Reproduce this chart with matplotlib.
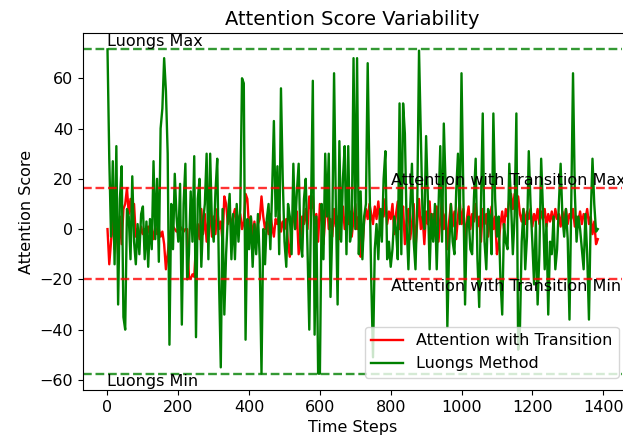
import numpy as np
import matplotlib
matplotlib.use("Agg")
import matplotlib.pyplot as plt

# time steps, one reading every 5 steps
steps = np.arange(0, 1390, 5)

attention_transition = [
    0, -14, -5, 6, -8, 3, -10, 5, -6, 8,
    10, 16.3, 6, 12, 2, 10, -3, 0, -4, 1,
    -2, 0, -3, 1, -2, 0, -4, 1, -2, 0,
    -3, -1, -6, -16, -10, -3, 0, 1, 0, -1,
    0, 1, 0, -1, 0, 0, -19, -19.7, -18, -19,
    -6, 2, -4, 8, -2, 6, -5, 4, 7, -3,
    5, -2, 8, 0, 3, -5, 13, 10, 2, 7,
    0, 5, 8, -1, 4, 6, 0, 3, 14, 12,
    0, 5, -4, 3, -5, 2, 4, 13, 5, 0,
    3, -2, 6, 1, -3, 4, 2, 6, -1, 3,
    0, 4, -6, -11, 2, 6, 0, 7, -10, -4,
    5, 2, 8, 0, 13, 8, 13, 2, 6, -5,
    10, 3, -6, 5, 12, 0, 4, -3, 8, 1,
    5, -4, 3, 9, 0, 6, 2, 7, -3, 4,
    10, 0, 5, -11, -8, 3, 8, 4, 10, 6,
    2, 9, 4, 11, 3, 8, 5, 12, 2, 7,
    4, 10, -2, 6, 11, 0, 5, 9, -6, 3,
    8, -4, 2, 10, -8, 3, 12, 0, 5, -6,
    7, 2, 11, -3, 6, 1, 9, -5, 4, 12,
    0, 6, -8, 3, 10, 1, 7, -4, 5, 11,
    2, 8, -6, 4, 9, 0, 6, 3, 10, 1,
    5, -5, 8, 2, 6, -3, 4, 9, 0, 5,
    -10, -6, 2, 7, 0, 8, 5, 12, 14, 8,
    14, 10, 13, 6, 3, 8, 2, 7, 4, 8,
    1, 6, 3, 8, 2, 7, 4, 8, 1, 6,
    3, 7, 2, 8, 4, 6, 1, 7, 3, 8,
    2, 6, 4, 8, 1, 5, 3, 7, 2, 6,
    4, 8, 2, 5, -2, 3, -6, -4,
]

luongs = [
    71.5, 28, -3, 27, -14, 33, -30, 12, 25, -35,
    -40, 8, 5, -12, 21, -5, -14, 2, -10, 6,
    9, -12, 3, -15, 4, -8, 27, -4, 20, -13,
    40, 48, 68, 55, 30, -46, 10, -8, 22, 5,
    -5, 18, -38, 10, 26, -20, -10, 15, -5, 29,
    -43, 12, 20, -15, 3, 10, 30, -12, 30, 2,
    -5, 15, 28, -20, -55, 8, -34, -10, 5, 14,
    -12, 6, -12, 10, -5, 8, 60, 58, -44, 4,
    -8, 5, -15, 2, -10, 6, -12, -57.5, 0, -14,
    4, 10, -8, 15, 43, 5, 25, -10, 56, 20,
    -5, -15, 10, 5, -10, 26, 0, 15, 26, -5,
    -11, 12, 20, -8, -40, 10, 59, -42, 5, -57.5,
    -57.5, 10, -12, 30, 5, 30, -27, 0, 62, 10,
    -30, 35, -5, 20, 33, -10, 33, -5, 0, 68,
    0, 68, -10, 15, -12, 5, 10, 66, 20, -20,
    -51, -8, 2, -12, 8, -5, 20, 31, -12, -5,
    -15, -8, 5, 0, -12, 50, -10, 50, 38, 2,
    -16, 8, 26, -5, -16, 10, 71, 37, 5, 0,
    37, 12, -16, 6, -5, 10, -16, 8, 33, -5,
    42, 18, -39, -8, 10, -5, -10, 15, 30, 2,
    62, 15, -30, 2, 5, -8, -10, 12, 28, -12,
    -31, 10, 46, -5, -16, 8, 5, -10, 46, 12,
    -3, 5, -20, -34, 2, -5, -8, 26, 10, -10,
    5, 46, -48, -40, -5, 8, -16, -3, 31, 10,
    -5, -22, 3, -30, -10, 28, 8, -16, 2, -34,
    -5, -10, 5, -16, -8, 10, 26, 5, -3, 8,
    -4, -36, 10, 62, 15, -5, 5, 0, -8, -16,
    6, -10, -36, 5, 28, 10, -1, 0,
]

att_max, att_min = max(attention_transition), min(attention_transition)
lu_max, lu_min = max(luongs), min(luongs)

plt.rcParams['font.size'] = 11.5
plt.rcParams['lines.linewidth'] = 1.7

fig = plt.figure(figsize=(6.23, 4.42), dpi=100)
# the reference is cropped at the right edge of the axes
ax = fig.add_axes([0.1332, 0.118, 0.8657, 0.807])
ax.spines['right'].set_visible(False)

ax.plot(steps, attention_transition, color='r', label='Attention with Transition')
ax.plot(steps, luongs, color='g', label='Luongs Method')

ax.axhline(att_max, color='r', linestyle='--', alpha=0.8)
ax.axhline(att_min, color='r', linestyle='--', alpha=0.8)
ax.axhline(lu_max, color='g', linestyle='--', alpha=0.8)
ax.axhline(lu_min, color='g', linestyle='--', alpha=0.8)

ax.text(800, att_max, 'Attention with Transition Max', va='bottom', fontsize=11.5)
ax.text(800, att_min, 'Attention with Transition Min', va='top', fontsize=11.5)
ax.text(0, lu_max, 'Luongs Max', va='bottom', fontsize=11.5)
ax.text(0, lu_min, 'Luongs Min', va='top', fontsize=11.5)

ax.set_title('Attention Score Variability', fontsize=14)
ax.set_xlabel('Time Steps')
ax.set_ylabel('Attention Score')
ax.legend(loc='lower right', fontsize=11.5, bbox_to_anchor=(1.008, 0.012))

fig.savefig('out.png', dpi=100)
